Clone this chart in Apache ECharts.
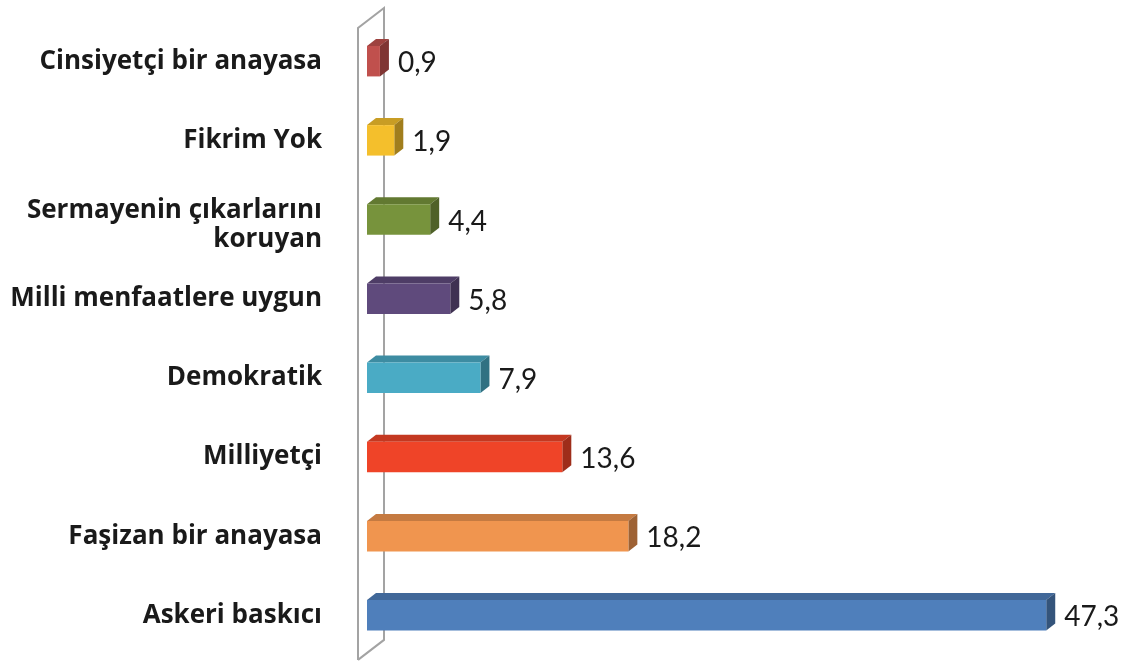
<!DOCTYPE html>
<html><head><meta charset="utf-8">
<script src="https://cdn.jsdelivr.net/npm/echarts@6/dist/echarts.min.js"></script>
<style>html,body{margin:0;padding:0;background:#fff}#c{width:1132px;height:662px}</style>
</head><body><div id="c"></div>
<script>
const categories = ['Askeri baskıcı','Faşizan bir anayasa','Milliyetçi','Demokratik','Milli menfaatlere uygun','Sermayenin çıkarlarını\nkoruyan','Fikrim Yok','Cinsiyetçi bir anayasa'];
const values = [47.3, 18.2, 13.6, 7.9, 5.8, 4.4, 1.9, 0.9];
const valueLabels = ['47,3','18,2','13,6','7,9','5,8','4,4','1,9','0,9'];
const barColors = ['#4f7fbb','#f0954f','#ef4428','#4aabc5','#5f4a7c','#77933c','#f4bf2c','#c0504d'];

function shade(hex, f){
  const n = parseInt(hex.slice(1),16);
  const r = Math.round(((n>>16)&255)*f), g = Math.round(((n>>8)&255)*f), b = Math.round((n&255)*f);
  return 'rgb('+r+','+g+','+b+')';
}
const DX = 9, DY = -7;
const labelFont = {color:'#1a1a1a', fontFamily:'Open Sans', fontWeight:'bold', fontSize:26, align:'right'};
const chart = echarts.init(document.getElementById('c'));
chart.setOption({
  backgroundColor:'#ffffff',
  animation:false,
  grid:{left:367, right:47, top:21.6, bottom:7.1, containLabel:false},
  xAxis:{type:'value', min:0, max:50, show:false, splitLine:{show:false}},
  yAxis:{type:'category', data:categories,
    axisLine:{show:false}, axisTick:{show:false}, splitLine:{show:false},
    axisLabel:Object.assign({margin:45, lineHeight:32,
      formatter:function(v){
        const parts = v.split('\n');
        if (parts.length < 2) return v;
        return '{a|' + parts[0] + '}\n{b|' + parts[1] + '}';
      },
      rich:{
        a:Object.assign({lineHeight:41}, labelFont),
        b:Object.assign({lineHeight:17}, labelFont)
      }}, labelFont)},
  series:[
    {type:'custom', z:1, silent:true, data:[[0,0]],
     renderItem:function(params, api){
       const cs = params.coordSys;
       const fx = cs.x-9, bx = cs.x+17, top = cs.y, bot = cs.y+cs.height;
       const st = {stroke:'#a3a3a3', lineWidth:2, fill:null};
       return {type:'group', children:[
         {type:'polyline', shape:{points:[[fx,bot+5],[fx,top+6.4],[bx,top-13.6],[bx,bot-15],[fx,bot+5]]}, style:st}
       ]};
     }},
    {type:'custom', z:2, silent:true,
     data: values.map(function(v,i){return [v,i];}),
     renderItem:function(params, api){
       const i = params.dataIndex;
       const v = api.value(0), ci = api.value(1);
       const p0 = api.coord([0, ci]), p1 = api.coord([v, ci]);
       const band = api.size([0,1])[1];
       const h = band*0.385;
       const x0 = p0[0], x1 = p1[0], yt = p0[1]-h/2, yb = p0[1]+h/2;
       const col = barColors[i];
       return {type:'group', children:[
         {type:'polygon', shape:{points:[[x0,yt],[x0+DX,yt+DY],[x1+DX,yt+DY],[x1,yt]]}, style:{fill:shade(col,0.82)}},
         {type:'polygon', shape:{points:[[x1,yt],[x1+DX,yt+DY],[x1+DX,yb+DY],[x1,yb]]}, style:{fill:shade(col,0.66)}},
         {type:'rect', shape:{x:x0, y:yt, width:x1-x0, height:h}, style:{fill:col}},
         {type:'text', style:{text:valueLabels[i], x:x1+DX+9, y:p0[1]+2, verticalAlign:'middle', align:'left',
           fill:'#1a1a1a', fontFamily:'Lato', fontSize:28}}
       ]};
     }}
  ]
});
</script></body></html>
